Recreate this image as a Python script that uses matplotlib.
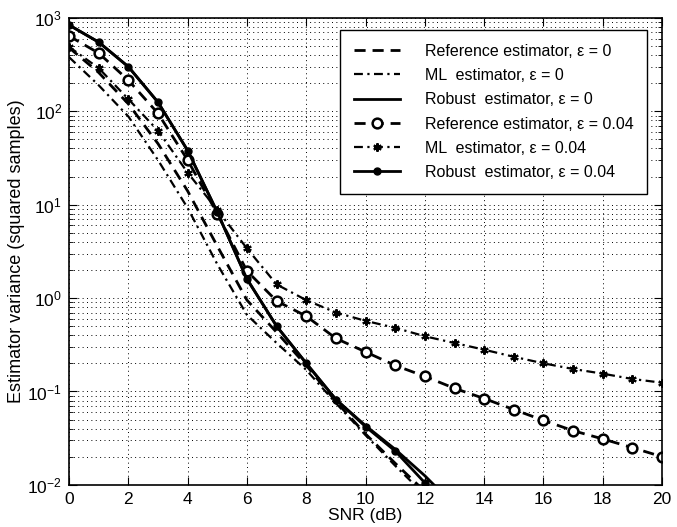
import matplotlib
matplotlib.use("Agg")
import matplotlib.pyplot as plt
from matplotlib.ticker import LogLocator, NullFormatter
import numpy as np

plt.rcParams["font.family"] = ["Liberation Sans", "DejaVu Sans"]

snr = np.arange(0, 21)
snr_lo = np.arange(0, 14)

# epsilon = 0 curves (fall below 1e-2 after ~12 dB)
ref_e0 = [480, 260, 120, 45, 14, 3.6, 0.95, 0.43, 0.19, 0.078, 0.035, 0.017, 0.0085, 0.004]
ml_e0 = [380, 190, 88, 30, 9.2, 2.3, 0.66, 0.33, 0.17, 0.075, 0.034, 0.016, 0.0078, 0.0037]
rob_e0 = [840, 550, 300, 125, 38, 8.3, 1.6, 0.5, 0.2, 0.082, 0.043, 0.024, 0.0125, 0.006]

# epsilon = 0.04 curves
ref_e4 = [640, 420, 215, 95, 30, 8.0, 1.95, 0.93, 0.64, 0.37, 0.265, 0.19, 0.145, 0.108,
          0.084, 0.064, 0.049, 0.038, 0.031, 0.025, 0.020]
ml_e4 = [490, 290, 135, 62, 22, 8.8, 3.4, 1.4, 0.95, 0.70, 0.57, 0.48, 0.39, 0.33,
         0.28, 0.235, 0.20, 0.174, 0.155, 0.136, 0.124]
rob_e4 = [840, 550, 300, 125, 38, 8.3, 1.6, 0.5, 0.2, 0.082, 0.042, 0.023, 0.0105, 0.0045]

labels = [
    "Reference estimator, \u03b5 = 0",
    "ML  estimator, \u03b5 = 0",
    "Robust  estimator, \u03b5 = 0",
    "Reference estimator, \u03b5 = 0.04",
    "ML  estimator, \u03b5 = 0.04",
    "Robust  estimator, \u03b5 = 0.04",
]

fig = plt.figure(figsize=(6.77, 5.27), dpi=100)
ax = fig.add_axes([0.102, 0.080, 0.876, 0.886])

dash = (0, (4, 2.5))
dashdot = (0, (4, 2, 1, 2))

ax.plot(snr_lo, ref_e0, color="k", lw=2, linestyle=dash, label=labels[0])
ax.plot(snr_lo, ml_e0, color="k", lw=1.6, linestyle=dashdot, label=labels[1])
ax.plot(snr_lo, rob_e0, color="k", lw=2, linestyle="-", label=labels[2])
ax.plot(snr, ref_e4, color="k", lw=2, linestyle=dash, marker="o", markersize=7,
        markerfacecolor="white", markeredgewidth=1.8, label=labels[3])
ax.plot(snr, ml_e4, color="k", lw=1.6, linestyle=dashdot, marker=(6, 2, 0), markersize=6,
        markeredgewidth=1.5, label=labels[4])
ax.plot(snr_lo, rob_e4, color="k", lw=2, linestyle="-", marker="o", markersize=5,
        markerfacecolor="k", label=labels[5])

ax.set_yscale("log")
ax.set_xlim(0, 20)
ax.set_ylim(1e-2, 1e3)
ax.set_xticks(np.arange(0, 21, 2))
ax.yaxis.set_major_locator(LogLocator(base=10, numticks=10))
ax.yaxis.set_minor_locator(LogLocator(base=10, subs=np.arange(2, 10), numticks=20))
ax.yaxis.set_minor_formatter(NullFormatter())

grid_style = dict(linestyle=(0, (1, 3.5)), color="k", lw=0.7)
ax.grid(True, which="major", **grid_style)
ax.grid(True, which="minor", axis="y", **grid_style)
ax.tick_params(which="both", direction="in", top=True, right=True, labelsize=12.5)
ax.tick_params(which="major", length=6, pad=5)
ax.tick_params(which="minor", length=3)
for s in ax.spines.values():
    s.set_linewidth(1.2)

ax.set_xlabel("SNR (dB)", fontsize=12.5, labelpad=1)
ax.set_ylabel("Estimator variance (squared samples)", fontsize=13, labelpad=2)

leg = ax.legend(loc="upper right", bbox_to_anchor=(0.983, 0.984), fontsize=11.5,
                handlelength=2.9, handletextpad=1.55, borderpad=0.85,
                borderaxespad=0.3, labelspacing=0.58, fancybox=False,
                framealpha=1, edgecolor="k", numpoints=1)
leg.get_frame().set_linewidth(1.0)

plt.savefig("out.png", dpi=100)
